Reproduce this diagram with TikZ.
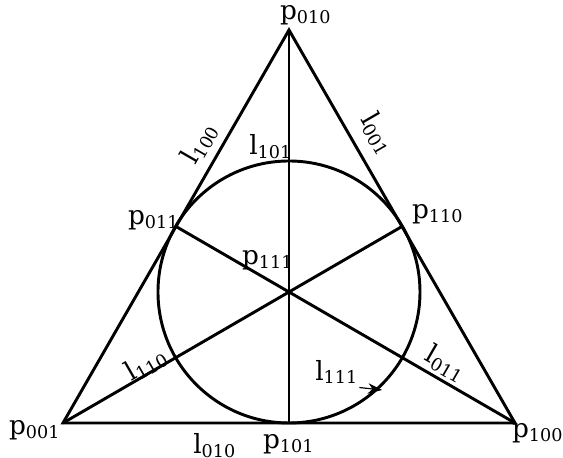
\documentclass[tikz,border=0pt]{standalone}
\usepackage{fontspec}
\setmainfont{DejaVu Serif}
\usetikzlibrary{arrows.meta}

\begin{document}
\begin{tikzpicture}[x=0.012cm,y=-0.012cm,>=Stealth,
  edge/.style={line width=1pt},
  lbl/.style={inner sep=1pt,font=\small}]
  \useasboundingbox (0,0) rectangle (563,458);
  % the seven points (pixel positions of the reference)
  \coordinate (p010) at (289,30);
  \coordinate (p001) at (63,423);
  \coordinate (p100) at (515,423);
  \coordinate (p011) at (176,226.5);
  \coordinate (p110) at (402,226.5);
  \coordinate (p101) at (289,423);
  \coordinate (p111) at (289,292);
  % six straight lines and the circle
  \draw[edge] (p001) -- (p100) -- (p010) -- cycle;
  \draw[edge] (p010) -- (p101);
  \draw[edge] (p001) -- (p110);
  \draw[edge] (p100) -- (p011);
  \draw[edge] (p111) circle[radius=131];
  % point labels
  \node[lbl] (tp010) at (306,15) {p\textsubscript{010}};
  \node[lbl] (tp011) at (154,220) {p\textsubscript{011}};
  \node[lbl] (tp110) at (438,214) {p\textsubscript{110}};
  \node[lbl] (tp111) at (268,260) {p\textsubscript{111}};
  \node[lbl] (tp001) at (35,430) {p\textsubscript{001}};
  \node[lbl] (tp101) at (289,444) {p\textsubscript{101}};
  \node[lbl] (tp100) at (538,433) {p\textsubscript{100}};
  % line labels
  \node[lbl] (tl101) at (271,147) {l\textsubscript{101}};
  \node[lbl,rotate=60] (tl100) at (200,143) {l\textsubscript{100}};
  \node[lbl,rotate=-60] (tl001) at (378,134) {l\textsubscript{001}};
  \node[lbl,rotate=30] (tl110) at (146,364) {l\textsubscript{110}};
  \node[lbl,rotate=-30] (tl011) at (446,364) {l\textsubscript{011}};
  \node[lbl] (tl010) at (215,446) {l\textsubscript{010}};
  \node[lbl] (tl111) at (337,372) {l\textsubscript{111}};
  \coordinate (a111) at (382,390);
  \draw[->,thin] ([xshift=-1pt]tl111.south east) -- (a111);
\end{tikzpicture}
\end{document}
